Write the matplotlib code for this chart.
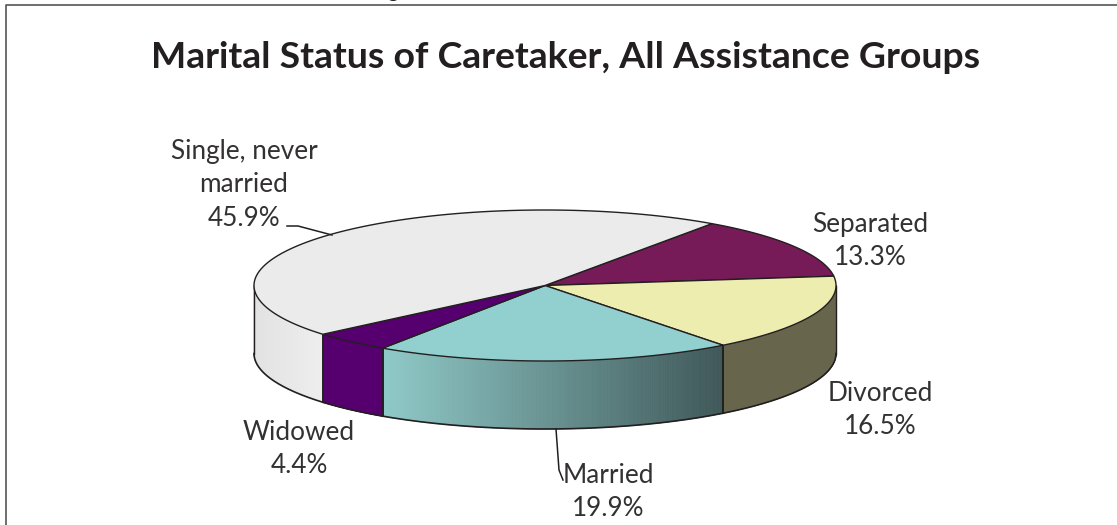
import numpy as np
import matplotlib
matplotlib.use("Agg")
import matplotlib.pyplot as plt
from matplotlib.collections import PolyCollection
from matplotlib.colors import to_rgb

title = "Marital Status of Caretaker, All Assistance Groups"
# going clockwise from the top right, same order as the picture
categories = ["Separated", "Divorced", "Married", "Widowed", "Single, never\nmarried"]
values = [13.3, 16.5, 19.9, 4.4, 45.9]
top_colors = ["#761b57", "#eeedb0", "#92cfcf", "#55006e", "#ebebeb"]
side_left = ["#761b57", "#67664c", "#8fcac8", "#55006e", "#e2e2e2"]
side_right = ["#761b57", "#67664c", "#3f5758", "#55006e", "#eeeeee"]

W, H = 1117, 525
cx, cy, rx, ry, depth = 545, 285.5, 291, 75.5, 68
start = 55.0
ink = "#231f20"

plt.rcParams["font.family"] = ["Lato", "DejaVu Sans"]
fig = plt.figure(figsize=(W / 100, H / 100), dpi=100)
ax = fig.add_axes([0, 0, 1, 1])
ax.set_xlim(0, W)
ax.set_ylim(H, 0)
ax.axis("off")

# page frame, only top and left show
ax.plot([5.5, 5.5, W], [H, 5, 5], color="#555555", lw=1.2)
ax.text(393, -3, "g", fontsize=15, color=ink, ha="center", va="baseline", clip_on=True)


def rim(a, b, n=200):
    t = np.radians(np.linspace(a, b, n))
    return cx + rx * np.cos(t), cy - ry * np.sin(t)


angles = [start]
for v in values:
    angles.append(angles[-1] - v * 3.6)

# sides
for i in range(len(values)):
    a, b = angles[i], angles[i + 1]
    # only the front half of the rim is visible
    parts = []
    for lo, hi in [(-180, 0), (-540, -360)]:
        top = min(a, hi)
        bot = max(b, lo)
        if top > bot:
            parts.append((top, bot))
    for top, bot in parts:
        x, y = rim(top, bot, 260)
        x0, x1 = x.min(), x.max()
        c0, c1 = np.array(to_rgb(side_left[i])), np.array(to_rgb(side_right[i]))
        polys, cols = [], []
        for k in range(len(x) - 1):
            polys.append([(x[k], y[k]), (x[k + 1], y[k + 1]),
                          (x[k + 1], y[k + 1] + depth), (x[k], y[k] + depth)])
            f = ((x[k] + x[k + 1]) / 2 - x0) / (x1 - x0)
            cols.append(c0 + (c1 - c0) * f)
        ax.add_collection(PolyCollection(polys, facecolors=cols, edgecolors=cols, linewidths=0.6, zorder=2))
        # outline of the side
        ax.plot(x, y + depth, color=ink, lw=1.2, zorder=3)
        for px, py, vis in [(x[0], y[0], top != 0 and top != -360), (x[-1], y[-1], bot != -180 and bot != -540)]:
            if vis:
                ax.plot([px, px], [py, py + depth], color=ink, lw=1.2, zorder=3)

# outer silhouette edges
for s in [-1, 1]:
    ax.plot([cx + s * rx] * 2, [cy, cy + depth], color=ink, lw=1.0, zorder=3)

# top face
for i in range(len(values)):
    x, y = rim(angles[i], angles[i + 1])
    ax.fill(np.r_[cx, x], np.r_[cy, y], facecolor=top_colors[i], edgecolor=ink, lw=1.0,
            joinstyle="round", zorder=4)

# labels
label_pos = [(870, 241), (880, 410), (608, 492), (299, 449), (244, 185)]
for name, v, (lx, ly) in zip(categories, values, label_pos):
    ax.text(lx, ly, f"{name}\n{v}%", fontsize=18.8, color="#333132", ha="center", va="center",
            linespacing=1.42, zorder=6)

# leader lines
ax.plot([287, 298, 332], [226, 226, 235], color=ink, lw=1.1, zorder=5)
ax.plot([556, 559, 563], [429, 470, 480], color=ink, lw=1.1, zorder=5)

ax.text(566, 57, title, fontsize=26.9, fontweight="bold", color=ink, ha="center", va="center")

fig.savefig("out.png", dpi=100)
